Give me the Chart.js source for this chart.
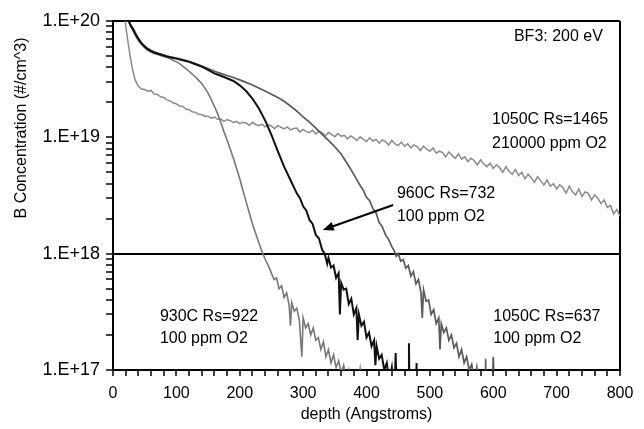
<!DOCTYPE html>
<html>
<head>
<meta charset="utf-8">
<script src="https://cdn.jsdelivr.net/npm/chart.js@4.4.1/dist/chart.umd.min.js"></script>
<style>
html,body{margin:0;padding:0;background:#fff;}
#wrap{width:644px;height:429px;position:relative;}
</style>
</head>
<body>
<div id="wrap"><canvas id="c" width="644" height="429"></canvas></div>
<script>
// ---------- DATA ----------
const xTickValues = [0,100,200,300,400,500,600,700,800];
const xTickLabels = ['0','100','200','300','400','500','600','700','800'];
const yDecades = [1e17,1e18,1e19,1e20];
const yTickLabels = ['1.E+17','1.E+18','1.E+19','1.E+20'];

// 1050C Rs=1465, 210000 ppm O2
const depth1465 = [10,15,19,23,27,31,35,
 40,45,50,55,60,65,70,75,80,85,90,95,100,105,110,115,120,125,130,135,140,145,150,155,160,165,170,175,180,185,190,195,200,
 205,210,215,220,225,230,235,240,245,250,255,260,265,270,275,280,285,290,295,300,305,310,315,320,325,330,335,340,345,350,
 355,360,365,370,375,380,385,390,395,400,405,410,415,420,425,430,435,440,445,450,455,460,465,470,475,480,485,490,495,500,
 505,510,515,520,525,530,535,540,545,550,555,560,565,570,575,580,585,590,595,600,605,610,615,620,625,630,635,640,645,650,
 655,660,665,670,675,680,685,690,695,700,705,710,715,720,725,730,735,740,745,750,755,760,765,770,775,780,785,790,795,800];
const conc1465 = [3e20,1.6e20,1.0e20,7e19,5e19,3.8e19,3.1e19,
 2.75e19,2.60e19,2.58e19,2.49e19,2.53e19,2.36e19,2.34e19,2.23e19,2.20e19,2.10e19,2.06e19,1.98e19,1.94e19,1.86e19,1.84e19,1.75e19,1.73e19,1.66e19,1.64e19,1.58e19,1.57e19,1.52e19,1.52e19,1.46e19,1.49e19,1.43e19,1.44e19,1.37e19,1.42e19,1.39e19,1.34e19,1.37e19,1.31e19,
 1.35e19,1.33e19,1.27e19,1.34e19,1.29e19,1.26e19,1.30e19,1.23e19,1.28e19,1.25e19,1.19e19,1.26e19,1.22e19,1.18e19,1.23e19,1.16e19,1.19e19,1.20e19,1.11e19,1.17e19,1.12e19,1.10e19,1.15e19,1.07e19,1.13e19,1.09e19,1.03e19,1.10e19,1.06e19,1.01e19,
 1.08e19,1.02e19,1.04e19,9.7e18,1.03e19,9.9e18,9.4e18,1.01e19,9.6e18,9.2e18,9.9e18,9.3e18,9.6e18,8.9e18,9.5e18,9.2e18,8.6e18,9.4e18,8.8e18,8.5e18,9.1e18,8.4e18,8.8e18,8.1e18,8.6e18,8.3e18,7.7e18,8.4e18,7.9e18,7.6e18,
 8.1e18,7.3e18,7.6e18,7.4e18,6.8e18,7.5e18,7.0e18,6.6e18,7.2e18,6.5e18,6.8e18,6.2e18,6.6e18,6.3e18,5.8e18,6.4e18,5.9e18,5.6e18,6.0e18,5.4e18,5.8e18,5.5e18,5.0e18,5.6e18,5.1e18,4.8e18,5.3e18,4.7e18,5.0e18,4.4e18,
 4.8e18,4.5e18,4.1e18,4.6e18,4.2e18,3.9e18,4.3e18,3.8e18,4.0e18,3.6e18,3.9e18,3.7e18,3.3e18,3.8e18,3.4e18,3.2e18,3.6e18,3.1e18,3.4e18,3.3e18,2.9e18,3.2e18,3.0e18,2.7e18,2.9e18,2.5e18,2.6e18,2.2e18,2.4e18,2.1e18];

// 930C Rs=922, 100 ppm O2
const depth930 = [15,20,24,28,32,36,40,45,50,55,60,65,70,75,80,85,90,95,100,105,110,115,120,125,130,135,140,145,150,155,160,165,170,175,180,185,190,195,200,205,210,215,220,225,230,235,240,245,250,
 254,258,262,266,270,274,278,280,282,286,290,294,298,300,304,308,312,316,320,324,328,332,336,340,344,348,352,356,360,364,368,372,376,380,385,390,395,400,430];
const conc930 = [2.2e20,1.35e20,1.05e20,9.0e19,8.2e19,7.4e19,6.8e19,6.3e19,5.9e19,5.6e19,5.4e19,5.25e19,5.15e19,5.05e19,4.95e19,4.85e19,4.75e19,4.6e19,4.45e19,4.3e19,4.1e19,3.9e19,3.7e19,3.5e19,3.3e19,3.1e19,2.9e19,2.65e19,2.4e19,2.12e19,1.85e19,1.6e19,1.35e19,1.12e19,9.5e18,7.9e18,6.6e18,5.4e18,4.4e18,3.5e18,2.8e18,2.25e18,1.8e18,1.5e18,1.25e18,1.05e18,9.0e17,7.9e17,6.8e17,
 6.0e17,6.2e17,5.0e17,5.3e17,4.2e17,4.6e17,3.6e17,2.4e17,3.8e17,3.2e17,3.4e17,2.7e17,1.3e17,2.8e17,2.3e17,2.5e17,2.0e17,2.3e17,1.8e17,1.9e17,1.5e17,1.75e17,1.3e17,1.5e17,1.15e17,1.35e17,1.05e17,1.2e17,9.5e16,1.1e17,8.5e16,1.0e17,7e16,9e16,6e16,1.02e17,6e16,5e16,5e16];

// 960C Rs=732, 100 ppm O2
const depth960 = [15,20,24,28,32,36,40,45,50,55,60,65,70,75,80,85,90,100,110,120,130,140,150,160,170,180,190,200,210,220,230,240,250,260,270,280,290,295,300,305,310,315,320,325,330,
 334,338,340,344,348,352,356,358,360,364,368,372,376,380,384,386,388,392,396,400,404,408,412,414,416,420,424,428,432,436,440,444,446,448,456,466,467,468,478,479,480,520];
const conc960 = [2.1e20,1.3e20,1.02e20,9.1e19,8.4e19,7.6e19,7.0e19,6.4e19,6.0e19,5.7e19,5.5e19,5.35e19,5.25e19,5.15e19,5.05e19,4.95e19,4.88e19,4.75e19,4.6e19,4.45e19,4.25e19,4.05e19,3.8e19,3.55e19,3.38e19,3.22e19,3.05e19,2.8e19,2.5e19,2.15e19,1.78e19,1.4e19,1.05e19,7.6e18,5.6e18,4.3e18,3.3e18,3.0e18,2.55e18,2.35e18,1.95e18,1.8e18,1.45e18,1.35e18,1.08e18,
 1.0e18,8.2e17,9.2e17,7.6e17,7.9e17,6.2e17,6.8e17,3.0e17,5.6e17,4.9e17,5.0e17,3.7e17,4.1e17,3.0e17,3.4e17,1.8e17,3.0e17,2.4e17,2.6e17,1.9e17,2.1e17,1.6e17,1.8e17,1.1e17,1.6e17,1.25e17,1.35e17,1.0e17,1.15e17,8e16,1.05e17,6e16,1.4e17,6e16,5e16,5e16,1.7e17,5e16,5e16,1.15e17,5e16,5e16];

// 1050C Rs=637, 100 ppm O2
const depth637 = [15,20,24,28,32,36,40,45,50,55,60,65,70,75,80,85,90,100,110,120,130,140,150,160,170,180,190,200,210,220,230,240,250,260,270,280,290,300,310,320,330,340,350,360,370,380,390,395,400,405,410,415,420,425,430,435,440,
 444,447,450,454,458,462,466,470,474,478,482,486,488,490,494,498,502,506,510,514,516,518,522,526,530,534,538,542,546,550,554,558,562,566,570,574,578,587,588,589,598,600,602,640];
const conc637 = [2.0e20,1.25e20,1.0e20,9.3e19,8.6e19,7.8e19,7.1e19,6.5e19,6.1e19,5.8e19,5.6e19,5.45e19,5.3e19,5.2e19,5.1e19,5.0e19,4.92e19,4.8e19,4.65e19,4.5e19,4.3e19,4.1e19,3.9e19,3.7e19,3.55e19,3.4e19,3.27e19,3.12e19,2.97e19,2.82e19,2.66e19,2.5e19,2.35e19,2.2e19,2.04e19,1.86e19,1.68e19,1.5e19,1.35e19,1.2e19,1.06e19,9.4e18,8.3e18,7.2e18,5.9e18,4.8e18,3.85e18,3.5e18,3.05e18,2.85e18,2.45e18,2.25e18,1.85e18,1.7e18,1.45e18,1.32e18,1.15e18,
 1.05e18,9.5e17,1.0e18,8.6e17,8.9e17,7.5e17,7.9e17,6.4e17,7.0e17,5.5e17,6.0e17,4.6e17,2.8e17,4.9e17,3.9e17,4.0e17,3.0e17,3.3e17,2.5e17,2.8e17,1.5e17,2.5e17,2.1e17,2.3e17,1.8e17,2.0e17,1.55e17,1.7e17,1.3e17,1.5e17,1.15e17,1.3e17,1.0e17,1.12e17,8e16,1.05e17,6e16,6e16,1.25e17,6e16,6e16,1.3e17,6e16,6e16];

// ---------- ANNOTATIONS (anchored in data coordinates) ----------
const noteTexts = ['BF3: 200 eV','1050C Rs=1465','210000 ppm O2','960C Rs=732','100 ppm O2','930C Rs=922','100 ppm O2','1050C Rs=637','100 ppm O2'];
const noteDepths = [773,598,598,448,448,74,74,600,600];
const noteConcs = [7.3e19,1.41e19,8.9e18,3.3e18,2.07e18,2.86e17,1.88e17,2.86e17,1.88e17];
const arrowFrom = [442,2.62e18];
const arrowTo = [331,1.6e18];

// ---------- BUILD ----------
const pts = (xs, ys) => xs.map((x, i) => ({x, y: ys[i]}));
const FONT = '"Liberation Sans", Arial, Helvetica, sans-serif';
Chart.defaults.font.family = FONT;
Chart.defaults.color = '#000';

const yTickValues = [];
yDecades.forEach((d, i) => {
  if (i < yDecades.length - 1) { for (let m = 1; m <= 9; m++) yTickValues.push(m * d); }
  else yTickValues.push(d);
});
const xMinor = [];
for (let v = 0; v <= 800; v += 20) xMinor.push(v);

const notesPlugin = {
  id: 'notes',
  afterDraw(chart) {
    const {ctx, scales: {x, y}} = chart;
    ctx.save();
    ctx.fillStyle = '#000';
    ctx.font = '16px ' + FONT;
    ctx.textBaseline = 'middle';
    noteTexts.forEach((t, i) => {
      ctx.textAlign = i === 0 ? 'right' : 'left';
      ctx.fillText(t, x.getPixelForValue(noteDepths[i]), y.getPixelForValue(noteConcs[i]));
    });
    // arrow
    const x1 = x.getPixelForValue(arrowFrom[0]), y1 = y.getPixelForValue(arrowFrom[1]);
    const x2 = x.getPixelForValue(arrowTo[0]), y2 = y.getPixelForValue(arrowTo[1]);
    const ang = Math.atan2(y2 - y1, x2 - x1);
    ctx.strokeStyle = '#000';
    ctx.lineWidth = 2;
    ctx.beginPath();
    ctx.moveTo(x1, y1);
    ctx.lineTo(x2 - 8 * Math.cos(ang), y2 - 8 * Math.sin(ang));
    ctx.stroke();
    ctx.beginPath();
    ctx.moveTo(x2, y2);
    ctx.lineTo(x2 - 11 * Math.cos(ang) + 4.5 * Math.sin(ang), y2 - 11 * Math.sin(ang) - 4.5 * Math.cos(ang));
    ctx.lineTo(x2 - 11 * Math.cos(ang) - 4.5 * Math.sin(ang), y2 - 11 * Math.sin(ang) + 4.5 * Math.cos(ang));
    ctx.closePath();
    ctx.fill();
    // y axis title
    ctx.save();
    ctx.translate(22, 128);
    ctx.rotate(-Math.PI / 2);
    ctx.textAlign = 'center';
    ctx.font = '16px ' + FONT;
    ctx.fillText('B Concentration (#/cm^3)', 0, 0);
    ctx.restore();
    ctx.restore();
  }
};

const ds = (label, xs, ys, color, w) => ({
  label, data: pts(xs, ys), borderColor: color, borderWidth: w,
  pointRadius: 0, tension: 0, fill: false
});

new Chart(document.getElementById('c'), {
  type: 'line',
  data: {
    datasets: [
      ds('960C Rs=732', depth960, conc960, '#111111', 2),
      ds('1050C Rs=637', depth637, conc637, '#5a5a5a', 1.7),
      ds('930C Rs=922', depth930, conc930, '#777777', 1.6),
      ds('1050C Rs=1465', depth1465, conc1465, '#8a8a8a', 1.5)
    ]
  },
  options: {
    responsive: false,
    animation: false,
    devicePixelRatio: 1,
    layout: {padding: {left: 0, top: 21, right: 24, bottom: 0}},
    plugins: {legend: {display: false}, tooltip: {enabled: false}},
    scales: {
      x: {
        type: 'linear', min: 0, max: 800,
        afterFit: (s) => { s.height = 59; },
        afterBuildTicks: (s) => { s.ticks = xMinor.map(v => ({value: v})); },
        ticks: {
          autoSkip: false, maxRotation: 0, padding: 8,
          font: {size: 16},
          callback: (v) => { const i = xTickValues.indexOf(v); return i >= 0 ? xTickLabels[i] : ''; }
        },
        grid: {
          drawTicks: true, tickLength: 6, tickColor: '#000', tickWidth: 1.5,
          color: (c) => (c.tick && c.tick.value === 800) ? '#000' : 'rgba(0,0,0,0)',
          lineWidth: 2
        },
        border: {display: true, color: '#000', width: 2},
        title: {display: true, text: 'depth (Angstroms)', font: {size: 16}, color: '#000', padding: {top: 0, bottom: 5}}
      },
      y: {
        type: 'logarithmic', min: 1e17, max: 1e20,
        afterFit: (s) => { s.width = 113; },
        afterBuildTicks: (s) => { s.ticks = yTickValues.map(v => ({value: v})); },
        ticks: {
          autoSkip: false, padding: 6,
          font: {size: 18},
          callback: (v) => { const i = yDecades.indexOf(v); return i >= 0 ? yTickLabels[i] : ''; }
        },
        grid: {
          drawTicks: true, tickLength: 7, tickColor: '#000', tickWidth: 1.5,
          color: (c) => (c.tick && (c.tick.value === 1e18 || c.tick.value === 1e20)) ? '#000' : 'rgba(0,0,0,0)',
          lineWidth: 2
        },
        border: {display: true, color: '#000', width: 2}
      }
    }
  },
  plugins: [notesPlugin]
});
</script>
</body>
</html>
